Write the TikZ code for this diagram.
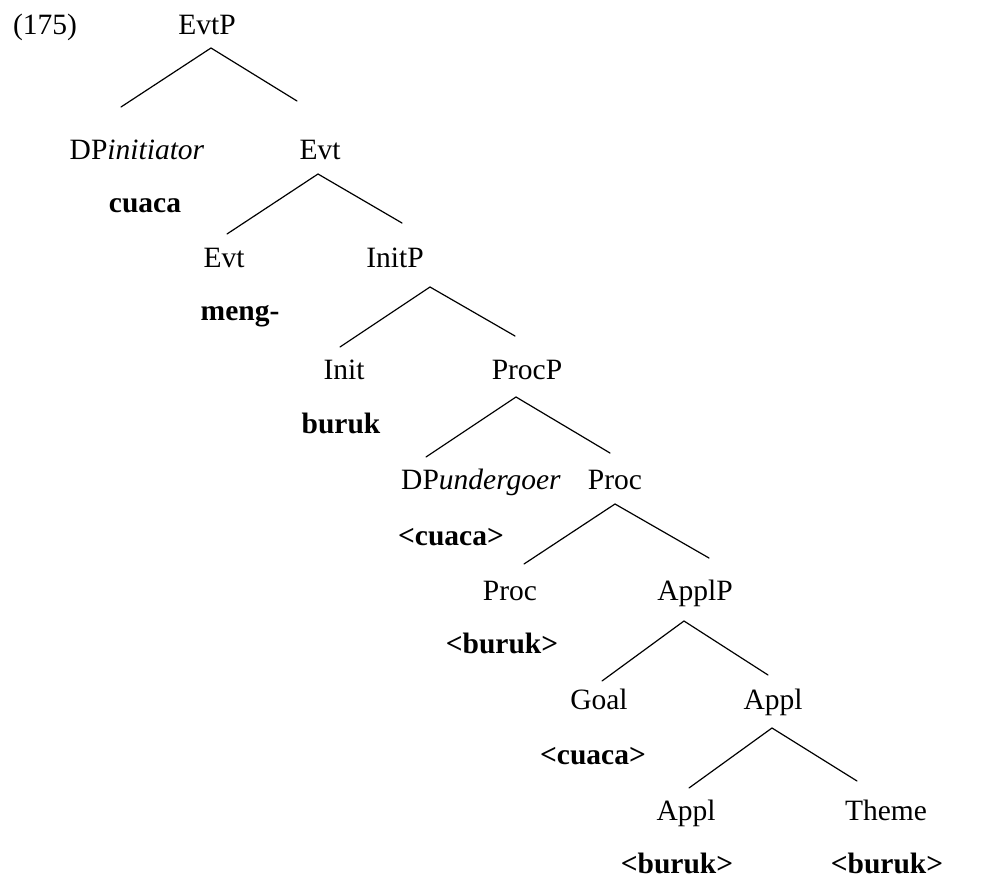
\documentclass[tikz,border=0pt]{standalone}
\usepackage{fontspec}
\setmainfont{Liberation Serif}
\begin{document}
\begin{tikzpicture}[x=1pt,y=-1pt,
  lbl/.style={anchor=base,inner sep=0pt,font=\fontsize{29.5}{34}\selectfont},
  word/.style={anchor=base,inner sep=0pt,font=\fontsize{29.5}{34}\selectfont\bfseries},
  branch/.style={line width=1.2pt,line cap=round}]
\useasboundingbox (0,0) rectangle (997,880);

% example number
\node[lbl] (num) at (45,35) {(175)};

% category labels
\node[lbl] (EvtP)  at (207,35)  {EvtP};
\node[lbl] (DPi)   at (137,160) {DP\textit{initiator}};
\node[lbl] (Evt1)  at (320,160) {Evt};
\node[lbl] (Evt2)  at (224,267) {Evt};
\node[lbl] (InitP) at (395,267) {InitP};
\node[lbl] (Init)  at (344,379) {Init};
\node[lbl] (ProcP) at (527,379) {ProcP};
\node[lbl] (DPu)   at (481,489) {DP\textit{undergoer}};
\node[lbl] (Proc1) at (615,489) {Proc};
\node[lbl] (Proc2) at (510,600) {Proc};
\node[lbl] (ApplP) at (695,600) {ApplP};
\node[lbl] (Goal)  at (599,709) {Goal};
\node[lbl] (Appl1) at (773,709) {Appl};
\node[lbl] (Appl2) at (686,820) {Appl};
\node[lbl] (Theme) at (886,820) {Theme};

% lexical items
\node[word] (w1) at (145,213) {cuaca};
\node[word] (w2) at (240,320) {meng-};
\node[word] (w3) at (341,433) {buruk};
\node[word] (w4) at (451,545) {<cuaca>};
\node[word] (w5) at (502,653) {<buruk>};
\node[word] (w6) at (593,764) {<cuaca>};
\node[word] (w7) at (677,873) {<buruk>};
\node[word] (w8) at (887,873) {<buruk>};

% branch points and branch ends
\coordinate (EvtP-a) at (211,48);   \coordinate (DPi-t)   at (121,107); \coordinate (Evt1-t)  at (297,101);
\coordinate (Evt1-a) at (318,174);  \coordinate (Evt2-t)  at (227,234); \coordinate (InitP-t) at (402,223);
\coordinate (InitP-a) at (430,287); \coordinate (Init-t)  at (340,347); \coordinate (ProcP-t) at (515,336);
\coordinate (ProcP-a) at (516,397); \coordinate (DPu-t)   at (426,457); \coordinate (Proc1-t) at (610,453);
\coordinate (Proc1-a) at (615,504); \coordinate (Proc2-t) at (524,564); \coordinate (ApplP-t) at (709,558);
\coordinate (ApplP-a) at (684,621); \coordinate (Goal-t)  at (602,681); \coordinate (Appl1-t) at (768,675);
\coordinate (Appl1-a) at (772,728); \coordinate (Appl2-t) at (689,788); \coordinate (Theme-t) at (857,781);

\draw[branch] (DPi-t) -- (EvtP-a) -- (Evt1-t);
\draw[branch] (Evt2-t) -- (Evt1-a) -- (InitP-t);
\draw[branch] (Init-t) -- (InitP-a) -- (ProcP-t);
\draw[branch] (DPu-t) -- (ProcP-a) -- (Proc1-t);
\draw[branch] (Proc2-t) -- (Proc1-a) -- (ApplP-t);
\draw[branch] (Goal-t) -- (ApplP-a) -- (Appl1-t);
\draw[branch] (Appl2-t) -- (Appl1-a) -- (Theme-t);
\end{tikzpicture}
\end{document}
